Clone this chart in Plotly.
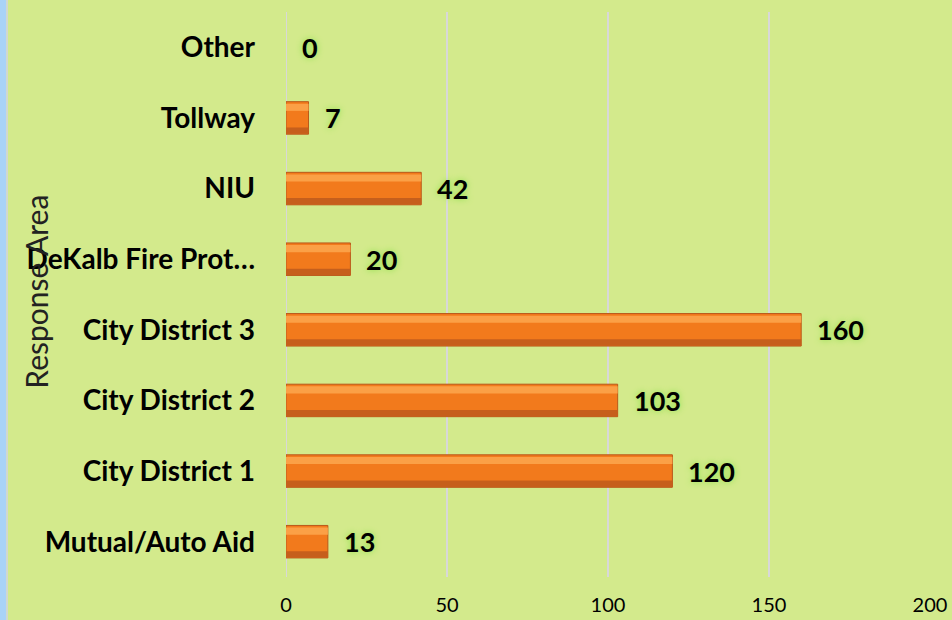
import plotly.graph_objects as go

categories = ["Mutual/Auto Aid", "City District 1", "City District 2", "City District 3",
              "DeKalb Fire Prot…", "NIU", "Tollway", "Other"]
values = [13, 120, 103, 160, 20, 42, 7, 0]
x_ticks = [0, 50, 100, 150, 200]

BG = "#d3ea8c"
FONT = "Lato"
pos = list(range(len(categories)))
edge_w = [1 if v > 0 else 0 for v in values]

fig = go.Figure()
# main bar body
fig.add_trace(go.Bar(x=values, y=pos, orientation="h", width=0.46, offset=-0.23,
                     marker=dict(color="#f27a1c", line=dict(color="#b9581a", width=edge_w)),
                     hoverinfo="x+y", showlegend=False))
# darker lower band
fig.add_trace(go.Bar(x=values, y=pos, orientation="h", width=0.09, offset=-0.225,
                     marker=dict(color="#c65f1c", line=dict(width=0)),
                     hoverinfo="skip", showlegend=False))
# lighter upper highlight
fig.add_trace(go.Bar(x=values, y=pos, orientation="h", width=0.1, offset=0.1,
                     marker=dict(color="#fba046", line=dict(width=0)),
                     hoverinfo="skip", showlegend=False))

annotations = []
for v, p in zip(values, pos):
    annotations.append(dict(x=v, y=p, xref="x", yref="y", text=str(v), showarrow=False,
                            xanchor="left", yanchor="middle", xshift=14,
                            font=dict(family=FONT, size=27, color="#000000", weight="bold",
                                      shadow="0px 0px 6px #8fe04a")))
annotations.append(dict(x=0, xref="paper", xshift=36 - 286, y=0.505, yref="paper",
                        text="Response Area", showarrow=False, textangle=-90,
                        xanchor="center", yanchor="middle",
                        font=dict(family=FONT, size=30, color="#222222")))

fig.update_layout(
    width=952, height=620,
    margin=dict(l=286, r=22, t=12, b=43),
    paper_bgcolor=BG, plot_bgcolor=BG,
    barmode="overlay",
    font=dict(family=FONT, color="#000000"),
    xaxis=dict(range=[0, 200], tickvals=x_ticks, ticktext=[str(t) for t in x_ticks],
               showgrid=True, gridcolor="#d8d8d8", gridwidth=2, zeroline=False,
               showline=False, ticks="", tickfont=dict(size=20, family=FONT, color="#000000"),
               ticklabelstandoff=14, automargin=False, fixedrange=True),
    yaxis=dict(range=[-0.5, 7.5], tickvals=pos, ticktext=categories,
               showgrid=False, zeroline=False, showline=False, ticks="",
               tickfont=dict(size=28, family=FONT, color="#000000", weight="bold"),
               ticklabelstandoff=30, automargin=False, fixedrange=True),
    annotations=annotations,
    shapes=[
        dict(type="line", xref="x", yref="paper", x0=0, x1=0, y0=0, y1=1,
             line=dict(color="#d8d8d8", width=2), layer="below"),
        dict(type="rect", xref="paper", yref="paper", xsizemode="pixel", xanchor=0,
             x0=-286, x1=-280, y0=-0.2, y1=1.2, fillcolor="#a9d3f7",
             line=dict(width=0), layer="above"),
        dict(type="rect", xref="paper", yref="paper", xsizemode="pixel", xanchor=0,
             x0=-280, x1=-278, y0=-0.2, y1=1.2, fillcolor="#d0d8d0",
             line=dict(width=0), layer="above"),
    ],
)

fig.write_html("out.html", config={"displayModeBar": False},
               post_script="document.body.style.margin='0';")
